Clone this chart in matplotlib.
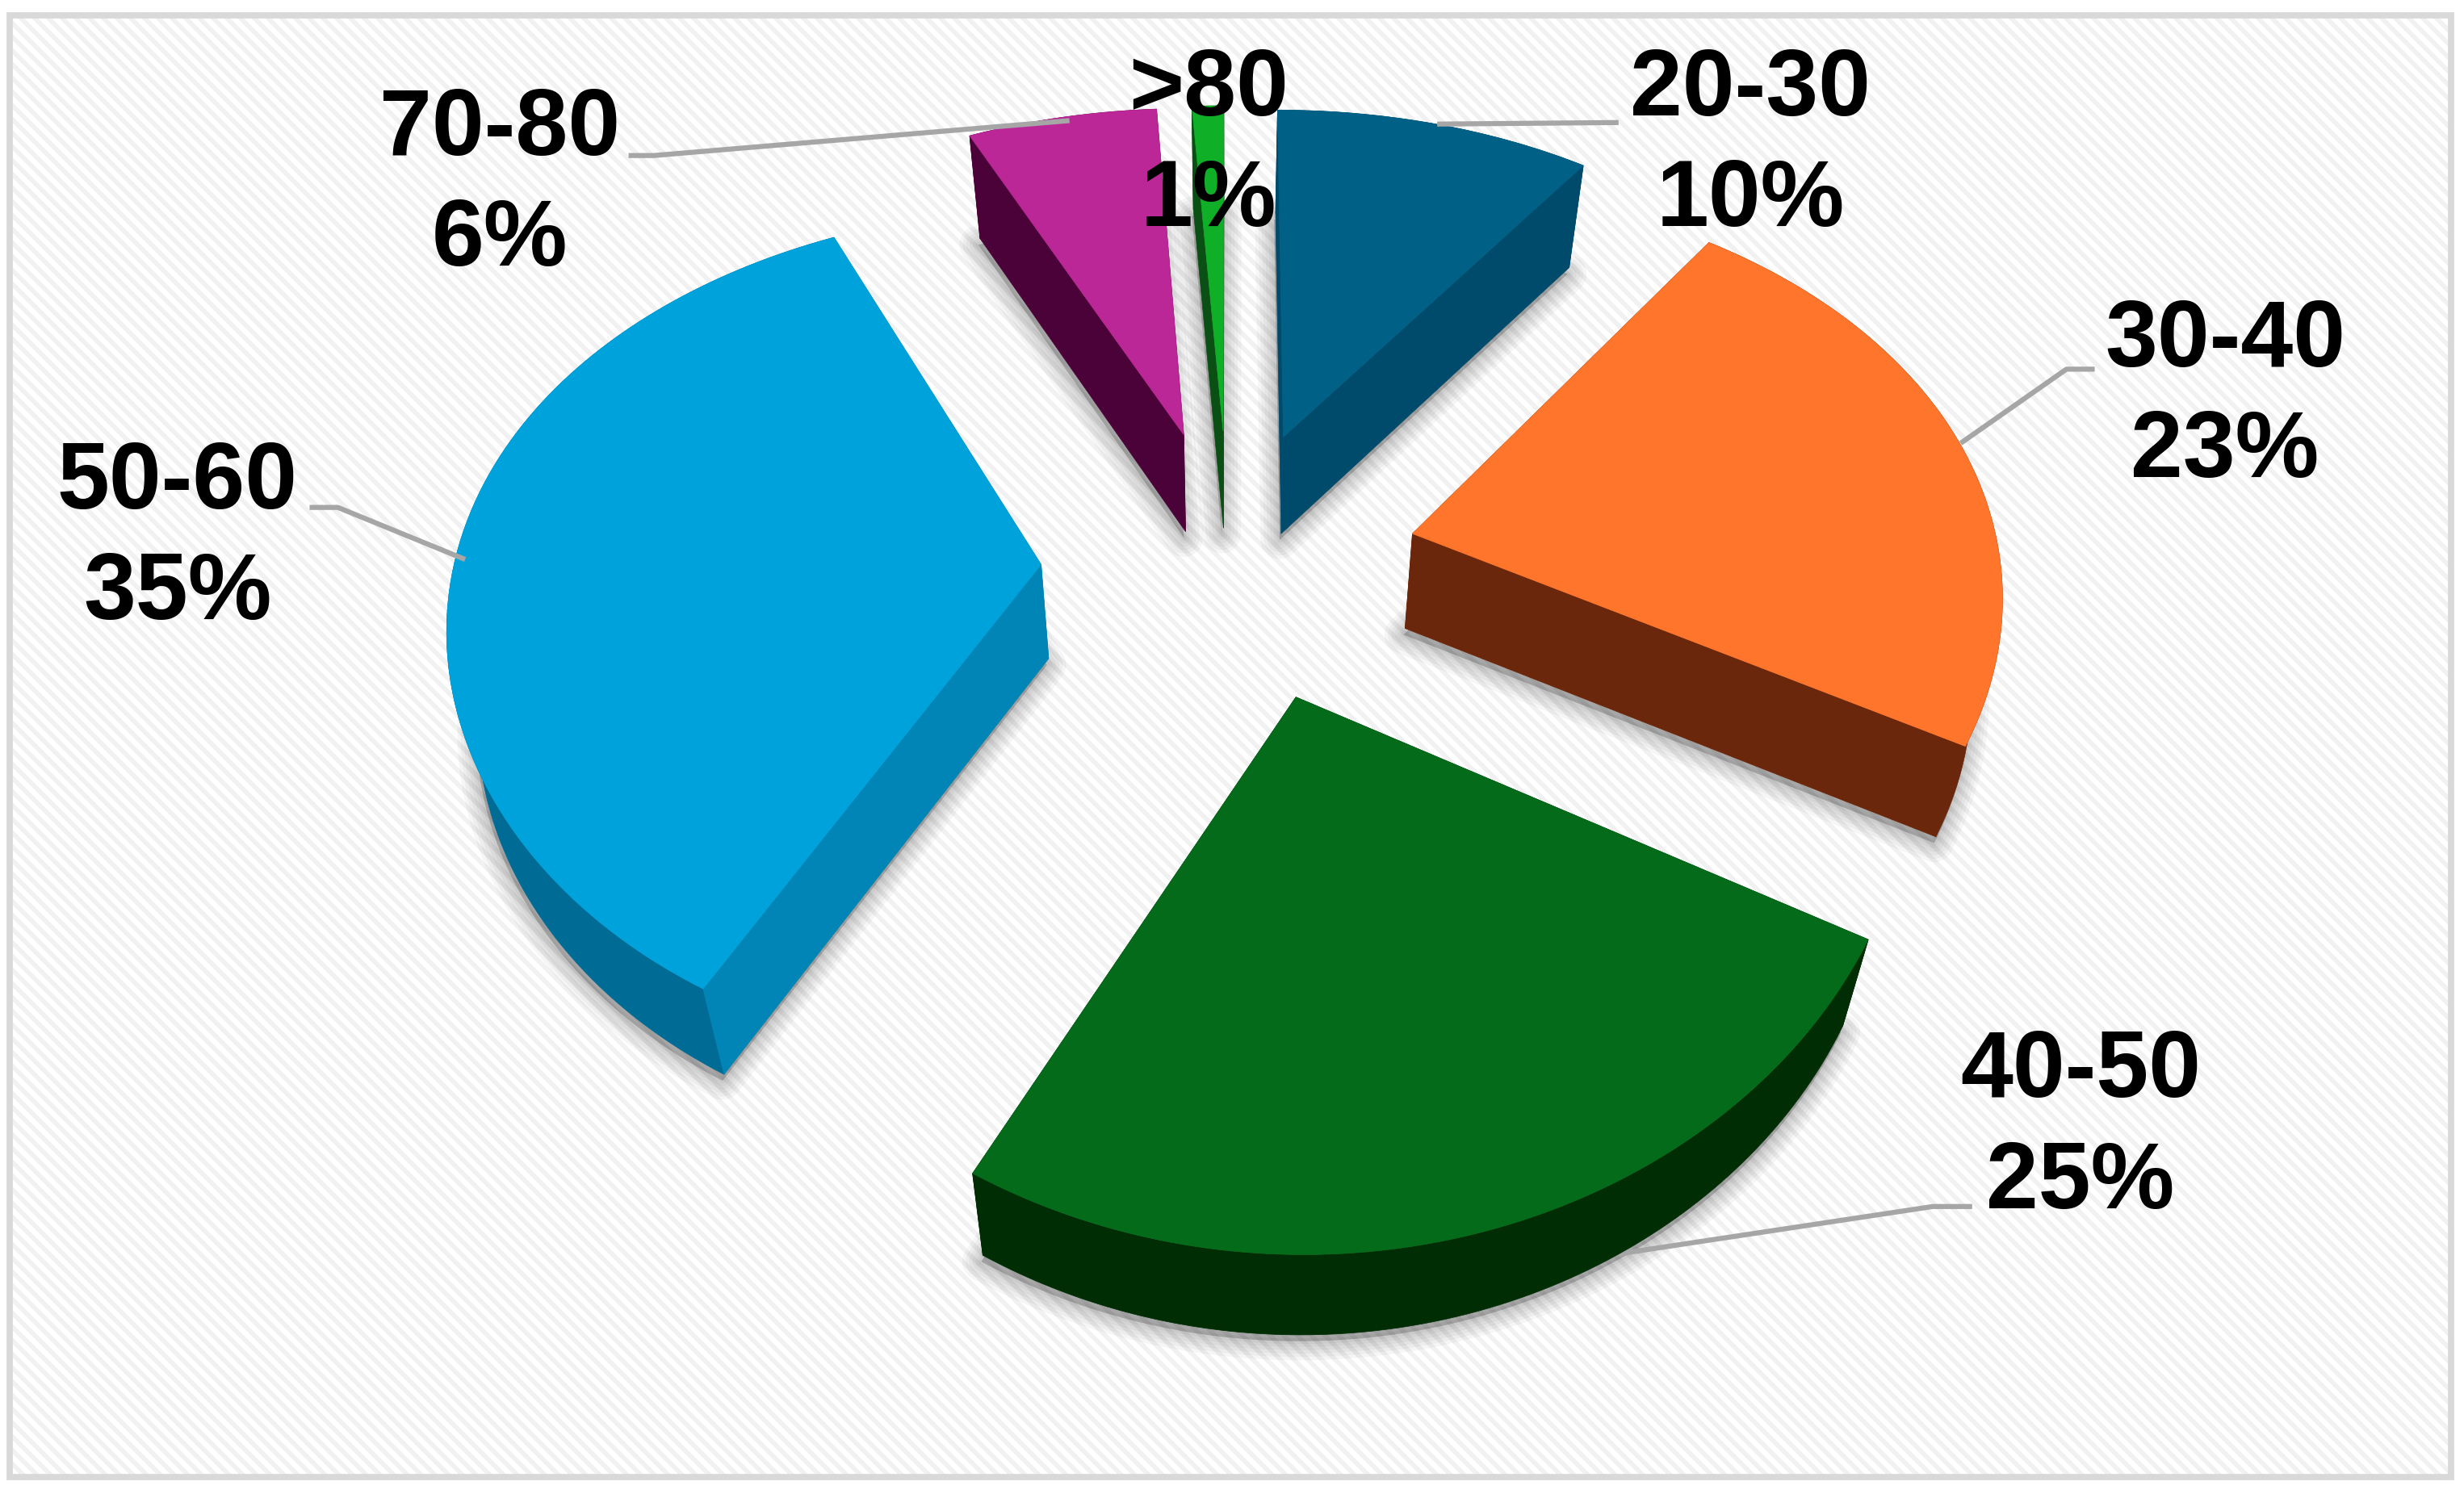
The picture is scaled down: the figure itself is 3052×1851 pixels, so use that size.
#!/usr/bin/env python
"""
Exploded 3D-look pie chart of age groups, drawn with polygons
"""

import numpy as np
import matplotlib
matplotlib.use("Agg")
import matplotlib.pyplot as plt
from matplotlib.patches import Polygon, Rectangle

# data
groups = ["20-30", "30-40", "40-50", "50-60", "70-80", ">80"]
percents = [10, 23, 25, 35, 6, 1]

# colours of each slice: top face, radial wall, outer wall
top_colors = ["#006086", "#FF752B", "#036B1A", "#00A2DB", "#BC2797", "#0FAF28"]
wall_colors = ["#004A6B", "#6B270B", "#012D05", "#0085B6", "#4B0238", "#0A4F14"]
outer_colors = ["#004A6B", "#6B270B", "#012D05", "#006C96", "#4B0238", "#0A4F14"]

# label centres and leader elbows, in the 1568x951 frame
label_pos = [(1114, 93), (1416, 253), (1324, 718), (113, 343), (318, 118), (769, 93)]
leader_elbow = [[(1030, 78)], [(1315, 235), (1333, 235)], [(1230, 768), (1255, 768)],
                [(215, 323), (197, 323)], [(416, 99), (400, 99)], None]
leader_shift = [(0, 0), (0, 0), (2, 32), (5, 12), (5, 2), (0, 0)]
leader_z = [6, 6, 3.5, 6, 6, 6]
# small per-slice corrections of the explode offset
nudge = [(-1, 0), (1, 3), (8, 3), (0, 7), (0, 0), (0, 0)]

# projection of the pie
CX, CY = 782, 355
RX, RY = 374, 265
PERSP_X = 0.12
PERSP_Y = 0.1635
EXPLODE = 0.32
DEPTH = 60


def project(X, Y):
    Y = np.asarray(Y)
    return CX + RX * np.asarray(X) / (1 + PERSP_X * Y), CY - RY * Y / (1 + PERSP_Y * Y)


def lower(x, y):
    return CX + (x - CX) * 0.96, CY + (y - CY) * 0.98 + DEPTH


fig = plt.figure(figsize=(30.52, 18.51), dpi=100)
ax = fig.add_axes([0, 0, 1, 1])

# striped background inside the frame
yy, xx = np.mgrid[0:1851, 0:3052]
stripes = ((xx - yy) % 17) < 8
bg = np.where(stripes, 0.945, 1.0)
ax.imshow(bg, cmap="gray", vmin=0, vmax=1, extent=(0, 1568, 951, 0),
          aspect="auto", interpolation="bilinear", zorder=0)
ax.add_patch(Rectangle((0, 0), 1568, 10, color="white", zorder=1))
ax.add_patch(Rectangle((0, 940), 1568, 11, color="white", zorder=1))
ax.add_patch(Rectangle((0, 0), 6, 951, color="white", zorder=1))
ax.add_patch(Rectangle((1560, 0), 8, 951, color="white", zorder=1))
ax.add_patch(Rectangle((6, 10), 1554, 930, fill=False, ec="#D9D9D9", lw=5.6, zorder=2))

fractions = np.array(percents) / sum(percents)
ends = np.cumsum(fractions) * 2 * np.pi
starts = ends - fractions * 2 * np.pi
mids = (starts + ends) / 2
ex = EXPLODE * np.sin(mids)
ey = EXPLODE * np.cos(mids)

# back slices first
order = np.argsort(ey)[::-1]
for i in order:
    t = np.linspace(starts[i], ends[i], 120)
    ax_x, ax_y = project(ex[i], ey[i])
    arc_x, arc_y = project(ex[i] + np.sin(t), ey[i] + np.cos(t))
    top_x = np.r_[ax_x, arc_x] + nudge[i][0]
    top_y = np.r_[ax_y, arc_y] + nudge[i][1]
    arc_x, arc_y = top_x[1:], top_y[1:]
    low_x, low_y = lower(top_x, top_y)

    # soft shadow under the slice
    for lw in [34, 28, 22, 16, 10, 5]:
        ax.add_patch(Polygon(np.c_[low_x - 1, low_y + 4], closed=True, fc="black", ec="black",
                             alpha=0.035, lw=lw, joinstyle="round", zorder=3))

    walls = []
    # radial wall at the start and end angle, then outer wall
    walls.append((np.c_[[top_x[0], top_x[1], low_x[1], low_x[0]],
                        [top_y[0], top_y[1], low_y[1], low_y[0]]], wall_colors[i]))
    walls.append((np.c_[[top_x[0], top_x[-1], low_x[-1], low_x[0]],
                        [top_y[0], top_y[-1], low_y[-1], low_y[0]]], wall_colors[i]))
    walls.append((np.c_[np.r_[arc_x, low_x[1:][::-1]],
                        np.r_[arc_y, low_y[1:][::-1]]], outer_colors[i]))
    walls.sort(key=lambda w: w[0][:, 1].mean())
    for pts, col in walls:
        ax.add_patch(Polygon(pts, closed=True, fc=col, ec=col, lw=0.5, zorder=4))
    ax.add_patch(Polygon(np.c_[top_x, top_y], closed=True, fc=top_colors[i], ec=top_colors[i],
                         lw=0.5, zorder=5))

# leader lines start on the arc at the middle of the slice
for i, elbow in enumerate(leader_elbow):
    if elbow is None:
        continue
    sx, sy = project(ex[i] + np.sin(mids[i]), ey[i] + np.cos(mids[i]))
    line_x = [sx + leader_shift[i][0]] + [p[0] for p in elbow]
    line_y = [sy + leader_shift[i][1]] + [p[1] for p in elbow]
    ax.plot(line_x, line_y, color="#A6A6A6", lw=4.5, solid_capstyle="butt", zorder=leader_z[i])

for i, group in enumerate(groups):
    ax.text(label_pos[i][0], label_pos[i][1], f"{group}\n{percents[i]}%", ha="center", va="center",
            family="Liberation Sans", fontweight="bold", fontsize=84, linespacing=1.33,
            color="black", zorder=7)

ax.set_xlim(0, 1568)
ax.set_ylim(951, 0)
ax.axis("off")
fig.savefig("out.png", dpi=100)
